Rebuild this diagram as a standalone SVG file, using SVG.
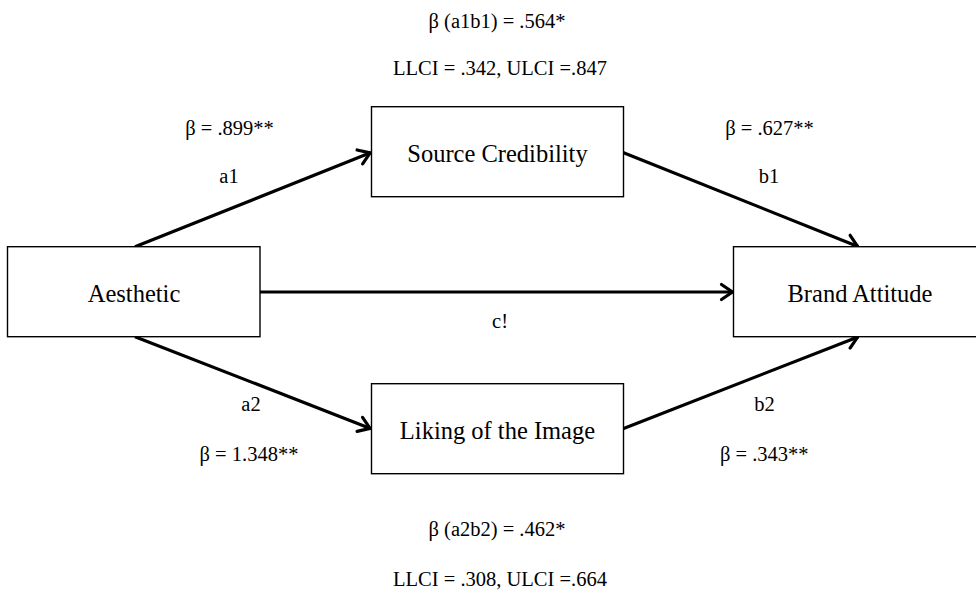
<svg xmlns="http://www.w3.org/2000/svg" width="976" height="596" viewBox="0 0 976 596">
<defs>
<style>
.box{fill:#fff;stroke:#000;stroke-width:1.4}
.node{font-family:"Liberation Serif","Times New Roman",serif;font-size:24.5px;fill:#000;text-anchor:middle}
.lbl{font-family:"Liberation Serif","Times New Roman",serif;font-size:20.5px;fill:#000;text-anchor:middle}
.conn{stroke:#000;stroke-width:3.2;fill:none;marker-end:url(#arr)}
</style>
<marker id="arr" markerUnits="userSpaceOnUse" viewBox="-16 -10 18 20" refX="0" refY="0" markerWidth="18" markerHeight="20" orient="auto">
<path d="M-12,-7.5 L-1,0 L-12,7.5" fill="none" stroke="#000" stroke-width="3.2" stroke-linecap="round" stroke-linejoin="round"/>
</marker>
</defs>
<rect width="976" height="596" fill="#fff"/>
<g id="connectors">
<line class="conn" x1="135" y1="246.7" x2="371" y2="152.5"/>
<line class="conn" x1="623" y1="152.5" x2="858.5" y2="246.7"/>
<line class="conn" x1="260" y1="292" x2="733.5" y2="292"/>
<line class="conn" x1="135" y1="336.7" x2="371" y2="428.7"/>
<line class="conn" x1="623" y1="428.7" x2="858.5" y2="336.7"/>
</g>
<g id="aesthetic">
<rect class="box" x="7.5" y="246.7" width="252.5" height="90"/>
<text class="node" x="134" y="301.5">Aesthetic</text>
</g>
<g id="source-credibility">
<rect class="box" x="371.5" y="106.7" width="252" height="90"/>
<text class="node" x="497.5" y="162">Source Credibility</text>
</g>
<g id="liking">
<rect class="box" x="371.5" y="383.7" width="252" height="90"/>
<text class="node" x="497.5" y="439">Liking of the Image</text>
</g>
<g id="brand-attitude">
<rect class="box" x="733.5" y="246.7" width="260" height="90"/>
<text class="node" x="860" y="301.5">Brand Attitude</text>
</g>
<g id="labels">
<text class="lbl" x="497" y="27.5">β (a1b1) = .564*</text>
<text class="lbl" x="500" y="75">LLCI = .342, ULCI =.847</text>
<text class="lbl" x="229.5" y="135">β = .899**</text>
<text class="lbl" x="229" y="183">a1</text>
<text class="lbl" x="769.5" y="135">β = .627**</text>
<text class="lbl" x="769" y="183">b1</text>
<text class="lbl" x="500" y="328">c!</text>
<text class="lbl" x="251" y="410.7">a2</text>
<text class="lbl" x="249" y="460.7">β = 1.348**</text>
<text class="lbl" x="764.5" y="410.7">b2</text>
<text class="lbl" x="764.3" y="460.7">β = .343**</text>
<text class="lbl" x="497" y="536">β (a2b2) = .462*</text>
<text class="lbl" x="500" y="586">LLCI = .308, ULCI =.664</text>
</g>
</svg>
